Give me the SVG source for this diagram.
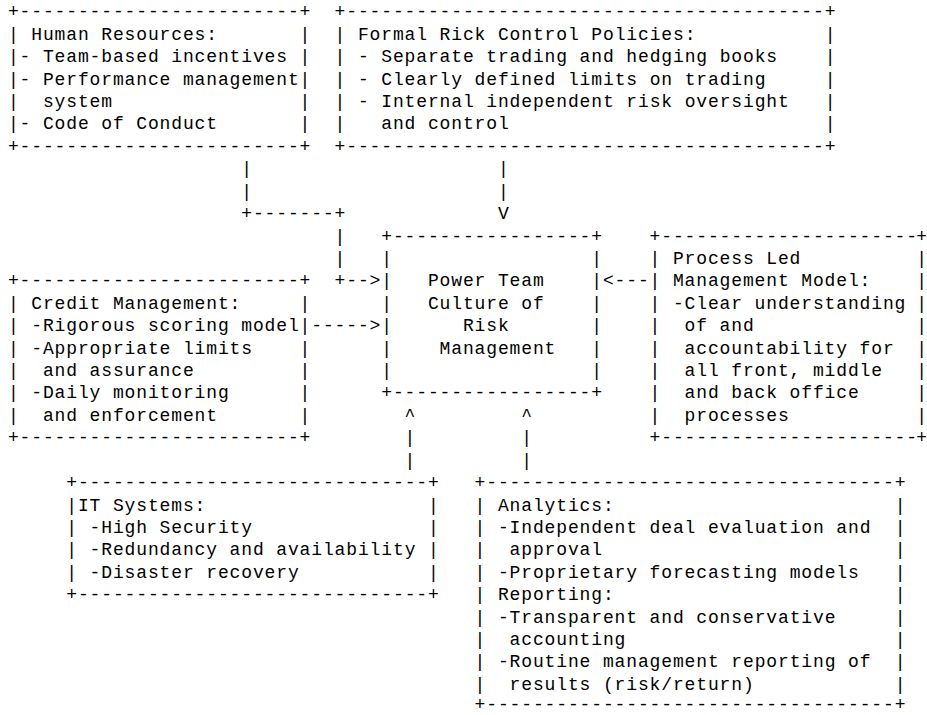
<svg xmlns="http://www.w3.org/2000/svg" width="927" height="715" viewBox="0 0 927 715" xml:space="preserve">
<style>
.t{font-family:"Liberation Mono","DejaVu Sans Mono",monospace;font-size:18px;letter-spacing:0.867px;fill:#000;white-space:pre}
.e{font-family:"Liberation Mono","DejaVu Sans Mono",monospace;font-size:18px;letter-spacing:0;fill:#000;white-space:pre;text-anchor:end}
</style>
<rect width="927" height="715" fill="#fff"/>
<g id="hr"><text class="t"><tspan x="7.9" y="17.3">+------------------------+</tspan><tspan x="7.9" y="39.72">| Human Resources:       |</tspan><tspan x="7.9" y="62.14">|- Team-based incentives |</tspan><tspan x="7.9" y="84.56">|- Performance management|</tspan><tspan x="7.9" y="106.98">|  system                |</tspan><tspan x="7.9" y="129.4">|- Code of Conduct       |</tspan><tspan x="7.9" y="151.82">+------------------------+</tspan></text></g>
<g id="formal"><text class="t"><tspan x="334.58" y="17.3">+-----------------------------------------+</tspan><tspan x="334.58" y="39.72">| Formal Rick Control Policies:           |</tspan><tspan x="334.58" y="62.14">| - Separate trading and hedging books    |</tspan><tspan x="334.58" y="84.56">| - Clearly defined limits on trading     |</tspan><tspan x="334.58" y="106.98">| - Internal independent risk oversight   |</tspan><tspan x="334.58" y="129.4">|   and control                           |</tspan><tspan x="334.58" y="151.82">+-----------------------------------------+</tspan></text></g>
<g id="power"><text class="t"><tspan x="381.24" y="241.5">+-----------------+</tspan><tspan x="381.24" y="263.92">|                 |</tspan><tspan x="381.24" y="286.34">|   Power Team    |</tspan><tspan x="381.24" y="308.76">|   Culture of    |</tspan><tspan x="381.24" y="331.18">|      Risk       |</tspan><tspan x="381.24" y="353.6">|    Management   |</tspan><tspan x="381.24" y="376.02">|                 |</tspan><tspan x="381.24" y="398.44">+-----------------+</tspan></text></g>
<g id="process"><text class="t"><tspan x="649.59" y="241.5">+----------------------</tspan><tspan x="649.59" y="263.92">| Process Led</tspan><tspan x="649.59" y="286.34">| Management Model:</tspan><tspan x="649.59" y="308.76">| -Clear understanding</tspan><tspan x="649.59" y="331.18">|  of and</tspan><tspan x="649.59" y="353.6">|  accountability for</tspan><tspan x="649.59" y="376.02">|  all front, middle</tspan><tspan x="649.59" y="398.44">|  and back office</tspan><tspan x="649.59" y="420.86">|  processes</tspan><tspan x="649.59" y="443.28">+----------------------</tspan></text><text class="e"><tspan x="927" y="241.5">+</tspan><tspan x="927" y="263.92">|</tspan><tspan x="927" y="286.34">|</tspan><tspan x="927" y="308.76">|</tspan><tspan x="927" y="331.18">|</tspan><tspan x="927" y="353.6">|</tspan><tspan x="927" y="376.02">|</tspan><tspan x="927" y="398.44">|</tspan><tspan x="927" y="420.86">|</tspan><tspan x="927" y="443.28">+</tspan></text></g>
<g id="credit"><text class="t"><tspan x="7.9" y="286.34">+------------------------+</tspan><tspan x="7.9" y="308.76">| Credit Management:     |</tspan><tspan x="7.9" y="331.18">| -Rigorous scoring model|</tspan><tspan x="7.9" y="353.6">| -Appropriate limits    |</tspan><tspan x="7.9" y="376.02">|  and assurance         |</tspan><tspan x="7.9" y="398.44">| -Daily monitoring      |</tspan><tspan x="7.9" y="420.86">|  and enforcement       |</tspan><tspan x="7.9" y="443.28">+------------------------+</tspan></text></g>
<g id="it"><text class="t"><tspan x="66.24" y="488.12">+------------------------------+</tspan><tspan x="66.24" y="510.54">|IT Systems:                   |</tspan><tspan x="66.24" y="532.96">| -High Security               |</tspan><tspan x="66.24" y="555.38">| -Redundancy and availability |</tspan><tspan x="66.24" y="577.8">| -Disaster recovery           |</tspan><tspan x="66.24" y="600.22">+------------------------------+</tspan></text></g>
<g id="analytics"><text class="t"><tspan x="474.58" y="488.12">+-----------------------------------+</tspan><tspan x="474.58" y="510.54">| Analytics:                        |</tspan><tspan x="474.58" y="532.96">| -Independent deal evaluation and  |</tspan><tspan x="474.58" y="555.38">|  approval                         |</tspan><tspan x="474.58" y="577.8">| -Proprietary forecasting models   |</tspan><tspan x="474.58" y="600.22">| Reporting:                        |</tspan><tspan x="474.58" y="622.64">| -Transparent and conservative     |</tspan><tspan x="474.58" y="645.06">|  accounting                       |</tspan><tspan x="474.58" y="667.48">| -Routine management reporting of  |</tspan><tspan x="474.58" y="689.9">|  results (risk/return)            |</tspan><tspan x="474.58" y="709.9">+-----------------------------------+</tspan></text></g>
<g id="connectors"><text class="t"><tspan x="241.24" y="174.24">|</tspan><tspan x="241.24" y="196.66">|</tspan><tspan x="241.24" y="219.08">+-------+</tspan><tspan x="334.58" y="241.5">|</tspan><tspan x="334.58" y="263.92">|</tspan><tspan x="334.58" y="286.34">+--&gt;</tspan><tspan x="497.91" y="174.24">|</tspan><tspan x="497.91" y="196.66">|</tspan><tspan x="497.91" y="219.08">V</tspan><tspan x="311.24" y="331.18">-----&gt;</tspan><tspan x="602.92" y="286.34">&lt;---</tspan><tspan x="404.58" y="420.86">^</tspan><tspan x="404.58" y="443.28">|</tspan><tspan x="404.58" y="465.7">|</tspan><tspan x="521.25" y="420.86">^</tspan><tspan x="521.25" y="443.28">|</tspan><tspan x="521.25" y="465.7">|</tspan></text></g>
</svg>
